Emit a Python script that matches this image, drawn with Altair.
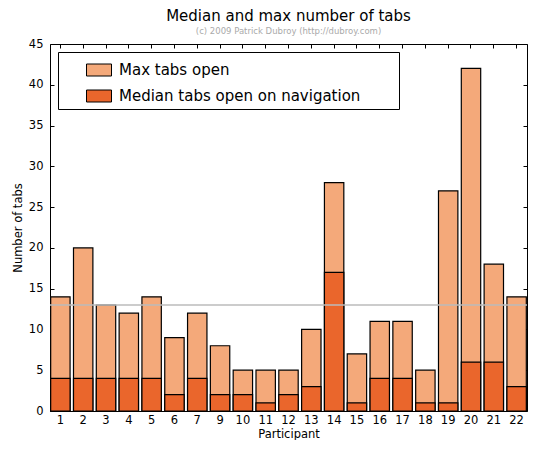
import altair as alt
import pandas as pd

participants = ["1", "2", "3", "4", "5", "6", "7", "9", "10", "11", "12",
                "13", "14", "15", "16", "17", "18", "19", "20", "21", "22"]
max_tabs = [14, 20, 13, 12, 14, 9, 12, 8, 5, 5, 5, 10, 28, 7, 11, 11, 5, 27, 42, 18, 14]
median_tabs = [4, 4, 4, 4, 4, 2, 4, 2, 2, 1, 2, 3, 17, 1, 4, 4, 1, 1, 6, 6, 3]
reference_line = [13]
series_names = ["Max tabs open", "Median tabs open on navigation"]
series_colors = ["#F4A97A", "#EA662C"]
y_ticks = [0, 5, 10, 15, 20, 25, 30, 35, 40, 45]

df_max = pd.DataFrame({"participant": participants, "tabs": max_tabs,
                       "series": [series_names[0]] * len(participants)})
df_med = pd.DataFrame({"participant": participants, "tabs": median_tabs,
                       "series": [series_names[1]] * len(participants)})
ref = pd.DataFrame({"value": reference_line})

W, H = 477, 367
FONT = "DejaVu Sans"

xscale = alt.Scale(paddingInner=0.15, paddingOuter=0.03)
yscale = alt.Scale(domain=[0, 45], nice=False)
color_scale = alt.Scale(domain=series_names, range=series_colors)

PAD = "\u2800" * 3

legend = alt.Legend(
    title=None, orient="none", legendX=8, legendY=8,
    strokeColor="black", fillColor="white", padding=5, cornerRadius=0,
    symbolType="M-1,-0.48H1V0.48H-1Z", symbolSize=625,
    symbolStrokeColor="black", symbolStrokeWidth=1, symbolOpacity=1,
    symbolOffset=23, labelFontSize=15, labelOffset=7, rowPadding=5,
    labelFont=FONT, labelColor="black", labelLimit=1000,
    labelExpr="datum.label + '" + PAD + "'",
)

def inner_y(orient):
    return alt.Axis(orient=orient, offset=-W, labels=False, tickSize=4, domain=False,
                    grid=False, title=None, values=y_ticks, tickColor="black")

def inner_x(orient):
    return alt.Axis(orient=orient, offset=-H, labels=False, tickSize=4, domain=False,
                    grid=False, title=None, tickColor="black")

max_bars = alt.Chart(df_max).mark_bar(stroke="black", strokeWidth=1.2).encode(
    x=alt.X("participant:N", sort=participants, scale=xscale,
            axis=alt.Axis(title="Participant", labelAngle=0, tickSize=0, labelPadding=3,
                          titlePadding=3, domain=False, grid=False)),
    y=alt.Y("tabs:Q", scale=yscale,
            axis=alt.Axis(title="Number of tabs", values=y_ticks, tickSize=0, labelPadding=7,
                          titlePadding=5, domain=False, grid=False)),
    color=alt.Color("series:N", scale=color_scale, legend=legend),
)

median_bars = alt.Chart(df_med).mark_bar(stroke="black", strokeWidth=1.2).encode(
    x=alt.X("participant:N", sort=participants, axis=inner_x("top")),
    y=alt.Y("tabs:Q", axis=inner_y("right")),
    color=alt.Color("series:N", scale=color_scale, legend=legend),
)

top_ticks = alt.Chart(df_max).mark_point(opacity=0).encode(
    x=alt.X("participant:N", sort=participants, axis=inner_x("bottom")),
)

rule = alt.Chart(ref).mark_rule(color="#bbbbbb", strokeWidth=1.5).encode(
    y=alt.Y("value:Q", axis=inner_y("left")),
)

chart = alt.layer(max_bars, median_bars, top_ticks, rule).resolve_axis(
    x="independent", y="independent"
).properties(
    width=W, height=H,
    padding={"left": 4, "top": 0, "right": 0, "bottom": 0},
    title=alt.TitleParams(
        "Median and max number of tabs",
        subtitle="(c) 2009 Patrick Dubroy (http://dubroy.com)",
        fontSize=15, fontWeight="normal", font=FONT, color="black",
        subtitleFontSize=8.5, subtitleColor="#aaaaaa", subtitleFont=FONT,
        anchor="middle", offset=3, subtitlePadding=3,
    ),
).configure_view(
    stroke="black", strokeWidth=1
).configure_axis(
    labelFont=FONT, titleFont=FONT, labelFontSize=11.5, titleFontSize=11.5,
    labelColor="black", titleColor="black", titleFontWeight="normal",
)

chart.save("out.html", embed_options={"renderer": "svg", "actions": False})
